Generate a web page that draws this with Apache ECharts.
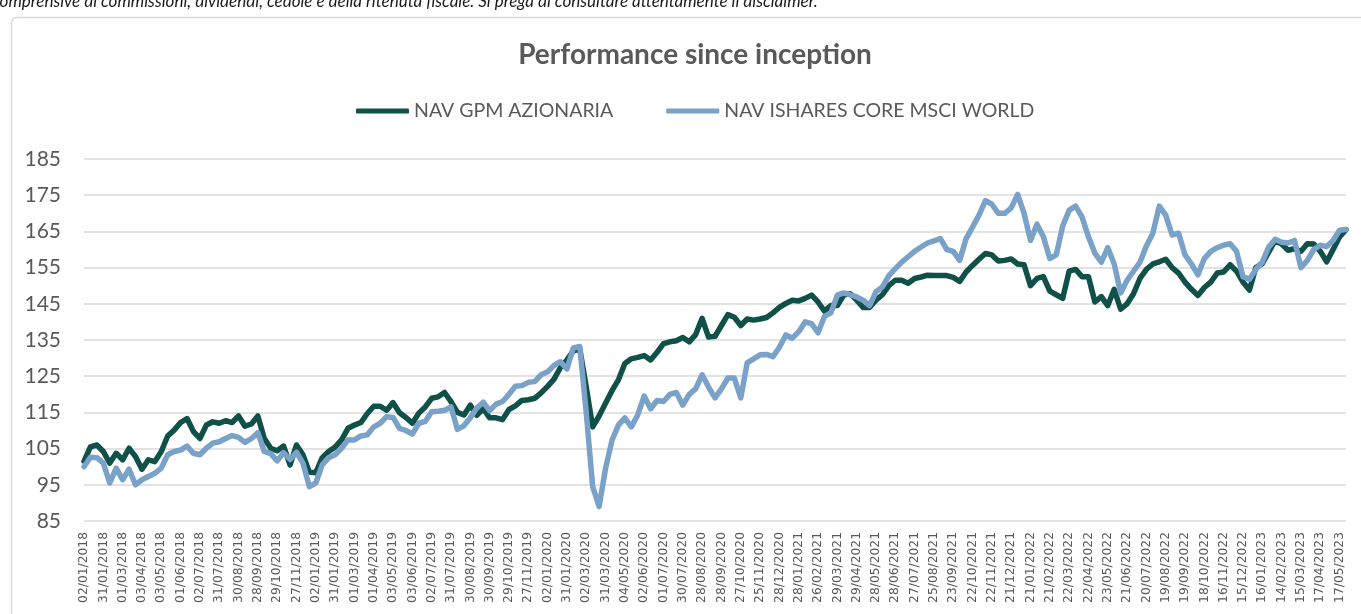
<!DOCTYPE html>
<html>
<head>
<meta charset="utf-8">
<script src="https://cdn.jsdelivr.net/npm/echarts@6/dist/echarts.min.js"></script>
<style>
  html, body { margin: 0; padding: 0; background: #fff; }
  #chart { width: 1361px; height: 614px; }
</style>
</head>
<body>
<div id="chart"></div>
<script>
// Tick labels (every 21 business days)
const tickLabels = [
  '02/01/2018','31/01/2018','01/03/2018','03/04/2018','03/05/2018','01/06/2018','02/07/2018','31/07/2018','30/08/2018','28/09/2018','29/10/2018','27/11/2018',
  '02/01/2019','31/01/2019','01/03/2019','01/04/2019','03/05/2019','03/06/2019','02/07/2019','31/07/2019','30/08/2019','30/09/2019','29/10/2019','27/11/2019',
  '02/01/2020','31/01/2020','02/03/2020','31/03/2020','04/05/2020','02/06/2020','01/07/2020','30/07/2020','28/08/2020','28/09/2020','27/10/2020','25/11/2020','28/12/2020',
  '28/01/2021','26/02/2021','29/03/2021','29/04/2021','28/05/2021','28/06/2021','27/07/2021','25/08/2021','23/09/2021','22/10/2021','22/11/2021','21/12/2021',
  '21/01/2022','21/02/2022','22/03/2022','22/04/2022','23/05/2022','21/06/2022','20/07/2022','19/08/2022','19/09/2022','18/10/2022','16/11/2022','15/12/2022',
  '16/01/2023','14/02/2023','15/03/2023','17/04/2023','17/05/2023'
];
// Points sampled 3 per tick interval (about every 7 business days)
const pointsPerTick = 3;

const navGpm = [
  101.5, 105.5, 106, 104.2, 101, 103.7, 101.9, 105.1, 102.8, 99.3,
  101.9, 101.4, 104.2, 108.5, 110.1, 112.2, 113.3, 109.7, 107.8, 111.5,
  112.4, 112, 112.7, 112.2, 114, 111.2, 111.8, 114, 107.8, 105.1,
  104.4, 105.7, 100.5, 106, 103.3, 98.5, 98.3, 102.5, 104.2, 105.4,
  107.4, 110.6, 111.5, 112.2, 114.7, 116.7, 116.7, 115.6, 117.7, 114.9,
  113.6, 112, 114.8, 116.5, 118.9, 119.3, 120.5, 118, 115, 114.3,
  117, 114.2, 116, 113.5, 113.5, 113, 115.8, 116.8, 118.3, 118.5,
  118.9, 120.4, 122.2, 124.2, 127.4, 129.5, 132, 132.5, 122, 111,
  114, 117.5, 121, 124, 128.5, 129.8, 130.2, 130.7, 129.5, 131.6,
  134, 134.5, 134.8, 135.7, 134.5, 136.5, 141, 135.8, 136, 139,
  142, 141.3, 139, 140.8, 140.5, 140.8, 141.2, 142.5, 144, 145.1,
  146, 145.8, 146.5, 147.4, 145.5, 143, 144.5, 144.5, 147.4, 147.8,
  146, 144, 144, 146, 147.5, 150, 151.5, 151.5, 150.7, 152,
  152.4, 152.9, 152.8, 152.8, 152.8, 152.3, 151.2, 153.8, 155.6, 157.3,
  158.9, 158.5, 156.8, 157, 157.4, 156, 155.8, 150, 152, 152.5,
  148.5, 147.5, 146.5, 154, 154.5, 152.5, 152.5, 145.5, 147, 144.5,
  149, 143.5, 145, 147.8, 152, 154.5, 156, 156.6, 157.3, 155,
  153.5, 151, 149, 147.3, 149.5, 151, 153.5, 153.8, 155.8, 154,
  151, 148.8, 155, 156.1, 159.3, 162.5, 161.5, 159.8, 160.2, 159.5,
  161.6, 161.5, 159.5, 156.6, 160, 163.5, 165.5
];

const navMsci = [
  100, 102.6, 102.5, 101, 95.5, 99.6, 96.4, 99.3, 95, 96.4,
  97.3, 98.2, 99.6, 103.3, 104.2, 104.6, 105.7, 103.7, 103.3, 105.1,
  106.5, 106.9, 107.8, 108.6, 108.1, 106.7, 107.8, 109.4, 104.2, 103.6,
  101.6, 103.9, 102, 104, 101, 94.5, 95.5, 100.5, 102.5, 103.3,
  105.1, 107.4, 107.4, 108.5, 108.8, 111, 112, 113.8, 113.6, 110.6,
  110, 109, 112, 112.5, 115.2, 115.3, 115.6, 116.5, 110.3, 111.3,
  113.5, 116.2, 117.8, 115.5, 117.3, 118, 120, 122.2, 122.4, 123.3,
  123.5, 125.4, 126.2, 128, 129, 127, 132.8, 133.2, 115, 94.5,
  89, 99.5, 107.3, 111.5, 113.5, 111, 114.3, 119.5, 116, 118.3,
  118, 120, 120.5, 117, 120, 121.5, 125.4, 122, 119, 121.5,
  124.5, 124.5, 119, 128.7, 129.8, 130.9, 131, 130.4, 133, 136.4,
  135.5, 137.3, 140, 139.5, 137, 141.5, 142.5, 147.4, 148, 147.5,
  146.9, 146, 144.5, 148.3, 149.7, 152.8, 154.7, 156.5, 158, 159.5,
  160.7, 161.8, 162.4, 163, 160, 159.5, 157, 163, 166.2, 169.5,
  173.5, 172.5, 170, 170, 171.5, 175.2, 170, 162.5, 167, 163.5,
  157.5, 158.5, 166.5, 170.8, 172, 169, 163.5, 159, 156.5, 160.5,
  156, 148, 151.5, 154, 156.5, 161, 164.5, 172, 169.5, 164,
  164.5, 158.5, 156, 153, 157.5, 159.5, 160.5, 161.2, 161.6, 159.5,
  152.5, 151.8, 154.5, 156.5, 160.7, 162.8, 162, 161.8, 162.5, 155,
  157, 160, 161.2, 160.8, 162.5, 165.3, 165.5
];

const seriesNames = ['NAV GPM AZIONARIA', 'NAV ISHARES CORE MSCI WORLD'];
const yTicks = { min: 85, max: 185, step: 10 };

// Build category list: labelled dates every 3rd point, unique placeholders between
const categories = navGpm.map(function (_, i) {
  const j = Math.floor(i / pointsPerTick);
  const r = i % pointsPerTick;
  const base = tickLabels[Math.min(j, tickLabels.length - 1)];
  return r === 0 && j < tickLabels.length ? base : base + '#' + r;
});

const chart = echarts.init(document.getElementById('chart'), null, { renderer: 'canvas' });
const gray = '#595959';
chart.setOption({
  animation: false,
  backgroundColor: '#ffffff',
  title: {
    text: 'Performance since inception',
    left: 690,
    textAlign: 'center',
    top: 36,
    textStyle: { fontFamily: 'Lato', fontWeight: 'bold', fontSize: 28, color: gray }
  },
  legend: {
    top: 101,
    left: 356,
    padding: 0,
    itemWidth: 53,
    itemHeight: 5,
    itemGap: 53,
    icon: 'roundRect',
    textStyle: { fontFamily: 'Lato', fontSize: 19.5, color: gray },
    data: seriesNames
  },
  grid: { left: 84, right: 15, top: 159, bottom: 93, containLabel: false },
  xAxis: {
    type: 'category',
    boundaryGap: false,
    data: categories,
    axisLine: { show: false },
    axisTick: { show: false },
    splitLine: { show: false },
    axisLabel: {
      interval: pointsPerTick - 1,
      rotate: 90,
      margin: 11,
      fontFamily: 'DejaVu Sans',
      fontSize: 12.3,
      color: gray
    }
  },
  yAxis: {
    type: 'value',
    min: yTicks.min,
    max: yTicks.max,
    interval: yTicks.step,
    axisLine: { show: false },
    axisTick: { show: false },
    axisLabel: { margin: 23, fontFamily: 'Lato', fontSize: 21, color: gray },
    splitLine: { lineStyle: { color: '#d9d9d9', width: 1.5 } }
  },
  series: [
    {
      name: seriesNames[0],
      type: 'line',
      data: navGpm,
      symbol: 'none',
      color: '#0f5049',
      lineStyle: { width: 5.5, color: '#0f5049', cap: 'round', join: 'round' },
      z: 2
    },
    {
      name: seriesNames[1],
      type: 'line',
      data: navMsci,
      symbol: 'none',
      color: '#7aa1c7',
      lineStyle: { width: 5.5, color: '#7aa1c7', cap: 'round', join: 'round' },
      z: 3
    }
  ],
  graphic: [
    {
      type: 'rect',
      z: -10,
      silent: true,
      shape: { x: 11.5, y: 17.5, width: 1400, height: 700, r: 5 },
      style: { fill: 'none', stroke: '#d9d9d9', lineWidth: 1.5 }
    },
    {
      type: 'text',
      silent: true,
      x: -8,
      y: 10,
      style: {
        text: 'comprensive di commissioni, dividendi, cedole e della ritenuta fiscale. Si prega di consultare attentamente il disclaimer.',
        font: 'italic 17px Lato',
        fill: '#1a1a1a',
        verticalAlign: 'bottom'
      }
    }
  ]
});
</script>
</body>
</html>
